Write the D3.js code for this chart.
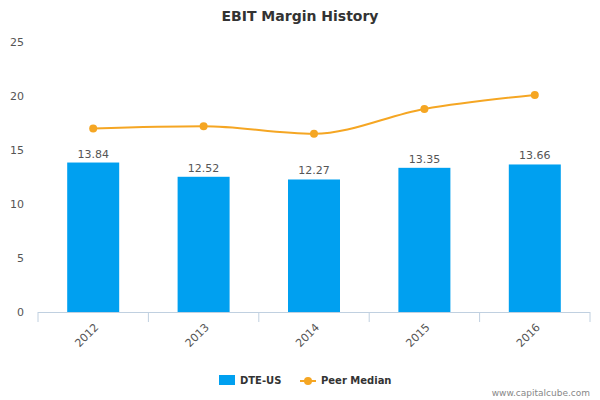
<!DOCTYPE html>
<html><head><meta charset="utf-8">
<script src="https://cdn.jsdelivr.net/npm/d3@7"></script>
<style>body{margin:0;background:#fff;font-family:"DejaVu Sans",sans-serif}</style>
</head><body><svg id="c" width="600" height="400"></svg>
<script>
const categories=["2012","2013","2014","2015","2016"];
const dteValues=[13.84,12.52,12.27,13.35,13.66];
const peerMedian=[17.0,17.2,16.5,18.8,20.1];
const yTicks=[0,5,10,15,20,25];

const svg=d3.select("#c");
const L=38,R=590,T=42,B=312;
const x=d3.scaleBand().domain(categories).range([L,R]);
const y=d3.scaleLinear().domain([0,25]).range([B,T]);

svg.append("text").attr("x",300).attr("y",21).attr("text-anchor","middle")
 .attr("font-size",14).attr("font-weight","bold").attr("fill","#333").text("EBIT Margin History");

yTicks.forEach(t=>{
 svg.append("text").attr("x",24).attr("y",y(t)+4).attr("text-anchor","end")
  .attr("font-size",11).attr("fill","#555").text(t);
});

svg.selectAll("rect.bar").data(categories).enter().append("rect")
 .attr("x",d=>x(d)+x.bandwidth()/2-26).attr("width",52)
 .attr("y",(d,i)=>y(dteValues[i])).attr("height",(d,i)=>B-y(dteValues[i]))
 .attr("fill","#00a0f0");
svg.selectAll("text.bl").data(categories).enter().append("text")
 .attr("x",d=>x(d)+x.bandwidth()/2).attr("y",(d,i)=>y(dteValues[i])-5)
 .attr("text-anchor","middle").attr("font-size",11).attr("fill","#555")
 .text((d,i)=>dteValues[i].toFixed(2));

svg.append("line").attr("x1",L).attr("x2",R).attr("y1",B+0.5).attr("y2",B+0.5).attr("stroke","#c0d0e0");
categories.concat(["end"]).forEach((d,i)=>{
 const xx=L+i*x.bandwidth();
 svg.append("line").attr("x1",xx).attr("x2",xx).attr("y1",B).attr("y2",B+10).attr("stroke","#c0d0e0");
});
categories.forEach(d=>{
 const cx=x(d)+x.bandwidth()/2;
 svg.append("text").attr("transform",`translate(${cx+6},${B+16}) rotate(-45)`)
  .attr("text-anchor","end").attr("font-size",11).attr("fill","#555").text(d);
});

const line=d3.line().x((d,i)=>x(categories[i])+x.bandwidth()/2).y(d=>y(d)).curve(d3.curveMonotoneX);
svg.append("path").datum(peerMedian).attr("d",line).attr("fill","none").attr("stroke","#f5a623").attr("stroke-width",2);
svg.selectAll("circle.p").data(peerMedian).enter().append("circle")
 .attr("cx",(d,i)=>x(categories[i])+x.bandwidth()/2).attr("cy",d=>y(d)).attr("r",4).attr("fill","#f5a623");

svg.append("rect").attr("x",219).attr("y",375).attr("width",16).attr("height",10).attr("fill","#00a0f0");
svg.append("text").attr("x",240).attr("y",384).attr("font-size",10).attr("font-weight","bold").attr("fill","#333").text("DTE-US");
svg.append("line").attr("x1",300).attr("x2",316).attr("y1",381).attr("y2",381).attr("stroke","#f5a623").attr("stroke-width",2);
svg.append("circle").attr("cx",308).attr("cy",381).attr("r",4).attr("fill","#f5a623");
svg.append("text").attr("x",321).attr("y",384).attr("font-size",10).attr("font-weight","bold").attr("fill","#333").text("Peer Median");
svg.append("text").attr("x",590).attr("y",396).attr("text-anchor","end").attr("font-size",9).attr("fill","#888").text("www.capitalcube.com");
</script></body></html>
